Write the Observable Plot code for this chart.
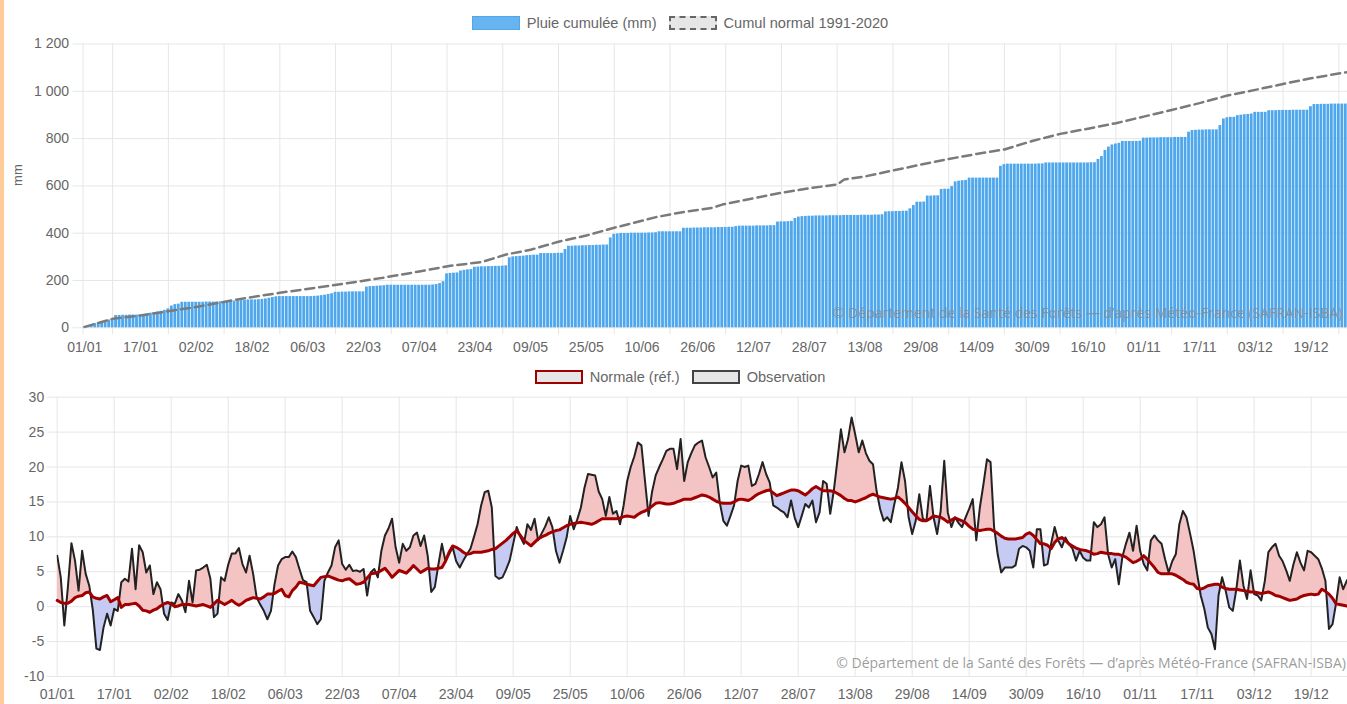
<!DOCTYPE html>
<html>
<head>
<meta charset="utf-8">
<script src="https://cdn.jsdelivr.net/npm/d3@7"></script>
<script src="https://cdn.jsdelivr.net/npm/@observablehq/plot@0.6"></script>
<style>
html, body { margin: 0; padding: 0; background: #fff; }
body { width: 1347px; height: 704px; position: relative; overflow: hidden; font-family: "Liberation Sans", Arial, sans-serif; }
#stripe { position: absolute; left: 0; top: 0; width: 4px; height: 704px; background: #ffcc99; z-index: 5; }
.legend { position: absolute; left: 0; width: 1360px; height: 18px; display: flex; justify-content: center; align-items: center; font-size: 14.6px; color: #666; }
.item { display: flex; align-items: center; margin: 0 6px; white-space: nowrap; }
.box { display: inline-block; box-sizing: border-box; width: 48px; height: 14px; margin-right: 7px; }
#c1 { position: absolute; left: 0; top: 34px; width: 1360px; }
#c2 { position: absolute; left: 0; top: 388px; width: 1360px; }
#c1 svg, #c2 svg { max-width: none !important; display: block; }
</style>
</head>
<body>
<div id="stripe"></div>
<div class="legend" style="top:14px">
  <span class="item"><span class="box" style="background:#67b4f1;border:1px solid #4fa8ec"></span>Pluie cumulée (mm)</span>
  <span class="item"><span class="box" style="background:#e6e6e6;border:2px dashed #666"></span>Cumul normal 1991-2020</span>
</div>
<div id="c1"></div>
<div class="legend" style="top:368px">
  <span class="item"><span class="box" style="background:#e6e6e6;border:2.5px solid #a00000"></span>Normale (réf.)</span>
  <span class="item"><span class="box" style="background:#e6e6e6;border:2px solid #444"></span>Observation</span>
</div>
<div id="c2"></div>
<script>
// ---------- DATA ----------
const tickLabels = ["01/01","17/01","02/02","18/02","06/03","22/03","07/04","23/04","09/05","25/05","10/06","26/06","12/07","28/07","13/08","29/08","14/09","30/09","16/10","01/11","17/11","03/12","19/12"];
const tickDays = [0,16,32,48,64,80,96,112,128,144,160,176,192,208,224,240,256,272,288,304,320,336,352];
const yTicksRain = [0,200,400,600,800,1000,1200];
const yTicksTemp = [-10,-5,0,5,10,15,20,25,30];
const credit = "© Département de la Santé des Forêts — d’après Météo-France (SAFRAN-ISBA)";

// Pluie cumulée (mm), one value per day from 01/01
const rainCum = [
  5, 8, 12, 18, 22, 25, 28, 33, 38, 52,
  52, 53, 53, 54, 54, 54, 55, 55, 58, 62,
  64, 67, 70, 74, 80, 92, 98, 100, 108, 108,
  108, 108, 108, 108, 108, 109, 109, 109, 109, 110,
  111, 111, 112, 113, 114, 115, 116, 118, 118, 118,
  119, 120, 122, 125, 128, 131, 132, 132, 132, 132,
  132, 132, 132, 132, 132, 132, 133, 134, 136, 138,
  141, 144, 150, 150, 151, 151, 152, 152, 152, 152,
  152, 172, 174, 175, 176, 177, 178, 180, 180, 180,
  180, 180, 180, 180, 180, 180, 180, 180, 180, 180,
  181, 183, 187, 195, 228, 230, 231, 232, 240, 243,
  245, 246, 256, 257, 258, 258, 259, 259, 260, 260,
  261, 262, 296, 300, 301, 302, 303, 305, 306, 307,
  307, 314, 314, 314, 314, 314, 315, 315, 331, 345,
  345, 346, 346, 347, 347, 348, 348, 349, 349, 350,
  350, 380, 395, 397, 399, 399, 399, 400, 400, 400,
  400, 400, 401, 401, 402, 406, 406, 406, 406, 406,
  406, 406, 421, 421, 421, 422, 422, 422, 423, 423,
  423, 423, 424, 424, 424, 425, 425, 428, 430, 430,
  430, 430, 430, 431, 431, 431, 431, 432, 432, 447,
  448, 448, 449, 450, 462, 468, 470, 471, 472, 472,
  473, 473, 473, 473, 474, 474, 474, 474, 475, 475,
  475, 475, 475, 476, 476, 476, 476, 477, 477, 478,
  490, 491, 491, 492, 492, 493, 493, 503, 517, 531,
  531, 532, 557, 557, 558, 558, 585, 586, 586, 597,
  617, 620, 622, 623, 633, 633, 633, 633, 633, 633,
  633, 633, 633, 683, 690, 692, 692, 692, 692, 692,
  692, 692, 692, 692, 693, 693, 697, 697, 697, 697,
  697, 697, 697, 697, 697, 697, 697, 697, 697, 698,
  698, 712, 724, 750, 764, 773, 777, 780, 788, 788,
  788, 788, 788, 789, 802, 802, 803, 803, 803, 804,
  804, 804, 804, 805, 805, 805, 805, 827, 834, 835,
  836, 836, 837, 837, 837, 837, 855, 883, 888, 890,
  890, 897, 899, 901, 902, 904, 911, 911, 911, 911,
  918, 918, 918, 919, 919, 919, 919, 920, 920, 920,
  920, 920, 935, 944, 944, 945, 945, 945, 946, 946,
  946, 946, 946, 946, 946
];

// Cumul normal 1991-2020 (day index, mm)
const normalCumDays = [0, 8, 16, 24, 32, 43, 56, 71, 85, 96, 105, 114, 121, 128, 136, 144, 152, 164, 172, 180, 183, 192, 200, 208, 216, 218, 224, 231, 240, 248, 256, 264, 272, 280, 288, 296, 304, 312, 320, 328, 336, 344, 352, 364];
const normalCumValues = [4, 38, 52, 70, 88, 118, 148, 179, 210, 238, 262, 278, 310, 330, 364, 390, 423, 468, 490, 507, 521, 548, 571, 590, 606, 627, 640, 662, 690, 714, 735, 754, 790, 820, 842, 865, 893, 921, 950, 982, 1006, 1031, 1055, 1085];

// Température observée (°C), one value per day
const tempObs = [
  7.3, 4.2, -2.7, 2.8, 9.1, 6.6, 2.3, 8.0, 4.7, 3.0,
  -0.5, -6.0, -6.2, -3.0, -1.0, -2.7, -0.3, -0.6, 3.5, 4.0,
  3.6, 8.3, 2.5, 8.8, 7.8, 4.9, 5.9, 1.8, 3.5, 2.5,
  -1.0, -1.9, 0.6, 0.4, 1.8, 0.9, -0.8, 3.7, 0.6, 5.2,
  5.3, 5.6, 6.0, 4.0, -1.5, -1.0, 4.2, 3.7, 6.0, 7.6,
  7.6, 8.4, 6.1, 4.9, 7.3, 4.7, 1.3, 0.3, -0.6, -1.8,
  -0.6, 3.2, 5.9, 6.8, 7.1, 7.1, 7.9, 7.1, 5.4, 3.8,
  3.5, -0.6, -1.5, -2.5, -1.8, 3.7, 4.9, 5.9, 8.5, 9.5,
  6.1, 5.3, 6.0, 5.1, 5.2, 5.0, 5.4, 1.6, 4.9, 5.4,
  4.2, 8.0, 10.2, 11.2, 12.6, 8.5, 6.3, 9.0, 8.0, 8.5,
  10.2, 10.6, 8.7, 10.2, 7.3, 2.1, 2.8, 6.0, 9.0, 6.5,
  7.5, 8.5, 6.5, 5.6, 6.6, 7.5, 8.3, 10.0, 11.8, 14.5,
  16.4, 16.6, 14.2, 4.4, 4.0, 4.2, 5.3, 6.6, 9.0, 11.4,
  10.0, 9.0, 11.8, 11.0, 12.6, 9.5, 10.5, 11.5, 12.8, 11.4,
  8.0, 6.3, 8.0, 9.9, 13.0, 11.1, 12.5, 14.2, 17.0, 19.0,
  18.9, 18.8, 16.5, 15.4, 13.0, 15.7, 13.3, 13.7, 11.8, 14.5,
  18.0, 20.0, 21.5, 23.5, 23.1, 18.0, 13.0, 16.5, 18.8, 20.0,
  21.1, 22.3, 22.6, 22.6, 19.7, 24.0, 18.0, 20.7, 22.0, 23.1,
  23.5, 23.8, 21.4, 20.0, 18.5, 19.2, 14.9, 12.3, 11.6, 13.0,
  14.5, 18.0, 20.2, 20.0, 20.2, 17.3, 17.6, 19.0, 20.7, 19.0,
  17.8, 14.5, 14.2, 13.8, 13.5, 12.8, 15.2, 12.8, 11.4, 13.0,
  14.7, 14.2, 15.2, 12.1, 13.5, 18.0, 17.6, 13.3, 16.6, 20.9,
  25.4, 22.1, 24.0, 27.1, 24.7, 22.1, 23.8, 22.0, 20.9, 20.4,
  16.6, 14.0, 12.3, 12.8, 12.1, 14.7, 17.0, 20.7, 18.0, 12.8,
  10.4, 12.3, 16.1, 12.6, 12.3, 17.3, 12.8, 10.4, 13.7, 20.9,
  13.5, 11.4, 12.8, 12.0, 11.4, 12.8, 14.0, 15.4, 9.5, 14.2,
  17.5, 21.1, 20.7, 11.4, 7.5, 4.9, 5.6, 5.6, 5.6, 5.9,
  8.3, 8.7, 8.5, 8.0, 5.6, 11.1, 11.1, 5.9, 6.1, 9.0,
  11.4, 9.5, 8.5, 9.9, 9.0, 8.3, 6.6, 8.0, 7.0, 6.6,
  6.6, 12.1, 11.4, 11.8, 12.8, 7.5, 5.6, 6.8, 3.2, 7.1,
  9.0, 10.6, 8.0, 11.6, 8.0, 6.1, 5.2, 9.5, 10.2, 9.5,
  9.0, 6.8, 4.9, 6.5, 7.5, 11.8, 13.7, 12.8, 10.5, 8.0,
  4.7, 1.6, -0.3, -3.0, -3.9, -6.1, 1.6, 4.2, 2.3, -0.1,
  -0.6, 2.5, 6.6, 3.0, 1.1, 5.2, 1.8, 1.6, 0.9, 3.7,
  7.8, 8.5, 9.0, 7.3, 6.5, 5.2, 3.7, 6.0, 7.8, 6.3,
  5.2, 8.0, 7.8, 7.3, 6.8, 5.5, 3.7, -3.2, -2.5, 0.5,
  4.2, 2.5, 3.7, 4.5, 3.0
];

// Normale (réf.) (°C), one value per day
const tempNormal = [
  0.9, 0.6, 0.5, 0.5, 0.8, 1.3, 1.5, 1.6, 2.0, 2.1,
  1.4, 1.2, 1.1, 1.4, 1.6, 0.7, 1.0, 1.3, -0.1, 0.3,
  0.3, 0.4, 0.5, 0.1, -0.5, -0.6, -0.8, -0.5, -0.3, 0.1,
  0.4, 0.6, 0.4, 0.0, 0.1, 0.3, 0.3, 0.3, 0.2, 0.1,
  0.2, 0.3, 0.1, -0.1, 0.4, 0.9, 0.6, 0.3, 0.6, 0.9,
  0.5, 0.2, 0.5, 0.9, 1.1, 1.3, 1.2, 1.1, 1.4, 1.8,
  1.8, 1.9, 2.2, 2.5, 1.6, 1.4, 2.3, 2.8, 3.5, 3.4,
  3.2, 3.1, 3.0, 3.6, 4.2, 4.3, 4.4, 4.2, 4.0, 3.8,
  3.7, 3.9, 4.0, 3.6, 3.2, 3.3, 3.5, 4.1, 4.7, 4.8,
  4.9, 5.2, 5.5, 4.9, 4.2, 4.7, 5.2, 5.0, 4.8, 5.3,
  5.9, 5.4, 4.9, 5.2, 5.5, 5.4, 5.4, 5.5, 5.6, 6.5,
  7.8, 8.7, 8.5, 8.2, 7.8, 7.5, 7.6, 7.8, 7.8, 7.8,
  7.9, 8.0, 8.2, 8.3, 8.7, 9.1, 9.5, 10.0, 10.5, 10.9,
  10.2, 9.5, 9.1, 8.7, 9.2, 9.7, 10.0, 10.2, 10.5, 10.7,
  10.9, 11.0, 11.3, 11.6, 11.8, 11.9, 12.0, 12.1, 12.0, 11.9,
  11.8, 12.0, 12.3, 12.6, 12.6, 12.6, 12.6, 12.6, 12.7, 12.9,
  13.0, 12.9, 12.8, 13.2, 13.5, 13.7, 14.0, 14.4, 14.8, 14.9,
  14.8, 14.7, 14.7, 14.8, 15.0, 15.2, 15.4, 15.4, 15.4, 15.6,
  15.8, 16.0, 15.9, 15.7, 15.4, 15.1, 14.9, 14.8, 14.8, 14.8,
  15.0, 15.3, 15.4, 15.3, 15.2, 15.5, 15.9, 16.2, 16.4, 16.6,
  16.7, 16.3, 15.9, 16.1, 16.3, 16.5, 16.7, 16.7, 16.6, 16.3,
  16.0, 16.4, 16.9, 17.2, 16.9, 16.6, 16.6, 16.6, 16.5, 16.2,
  15.9, 15.5, 15.2, 15.2, 15.0, 15.2, 15.4, 15.6, 15.9, 16.1,
  15.9, 15.7, 15.6, 15.5, 15.4, 15.5, 15.7, 15.3, 14.8, 14.2,
  13.6, 13.0, 12.5, 12.3, 12.3, 12.6, 13.0, 12.9, 12.8, 12.5,
  12.1, 12.4, 12.7, 12.5, 12.3, 12.0, 11.5, 11.1, 11.0, 10.9,
  11.0, 11.1, 11.1, 10.8, 10.5, 10.1, 9.8, 9.7, 9.7, 9.7,
  9.8, 9.9, 10.4, 10.6, 10.2, 9.6, 9.0, 9.0, 8.8, 8.3,
  9.2, 9.7, 9.9, 9.5, 9.0, 8.7, 8.4, 8.2, 8.1, 8.0,
  7.8, 7.5, 7.6, 7.8, 7.7, 7.6, 7.6, 7.5, 7.5, 7.3,
  7.1, 6.7, 6.3, 6.5, 6.8, 7.3, 6.8, 6.2, 5.6, 4.9,
  4.7, 4.7, 4.7, 4.7, 4.5, 4.2, 3.9, 3.5, 3.3, 3.2,
  2.6, 2.5, 2.7, 3.0, 3.1, 3.2, 3.2, 2.8, 2.6, 2.5,
  2.5, 2.5, 2.4, 2.3, 2.2, 2.1, 2.1, 2.0, 1.9, 2.0,
  2.1, 1.9, 1.6, 1.5, 1.3, 1.1, 0.9, 1.0, 1.1, 1.4,
  1.6, 1.7, 1.8, 1.7, 1.8, 2.5, 2.2, 1.8, 1.2, 0.4,
  0.3, 0.2, 0.1, 0.2, 0.3
];

// ---------- TABLES ----------
const rain = rainCum.map((v, i) => ({day: i, cum: v}));
const normCum = normalCumDays.map((d, i) => ({day: d, v: normalCumValues[i]}));
const temps = tempObs.map((v, i) => ({day: i, obs: v, normal: tempNormal[i]}));
const ticks = tickDays.map((d, i) => ({day: d, label: tickLabels[i]}));
const fr = d3.formatLocale({decimal: ",", thousands: " ", grouping: [3], currency: ["", " €"]}).format(",");

const FONT = "Liberation Sans, Arial, sans-serif";
const GRID = "#e6e6e6";
const TXT = "#666";
const W = 1360;

// ---------- TOP CHART ----------
const top1 = Plot.plot({
  width: W, height: 323,
  marginLeft: 82.5, marginRight: W - 1354, marginTop: 9.5, marginBottom: 29.7,
  x: {type: "linear", domain: [-0.5, 364.5], axis: null},
  y: {domain: [0, 1200], axis: null},
  style: {fontFamily: FONT, fontSize: "14px", background: "transparent", overflow: "visible", maxWidth: "none"},
  marks: [
    Plot.ruleY(yTicksRain, {stroke: GRID, strokeWidth: 1, insetLeft: -10}),
    Plot.ruleX([-0.5], {stroke: GRID, insetBottom: -7}),
    Plot.ruleX(tickDays.map(d => d + 8), {stroke: GRID, insetBottom: -7}),
    Plot.rectY(rain, {x1: d => d.day - 0.5, x2: d => d.day + 0.5, y: "cum", fill: "#4ea7ec", insetLeft: 0.35, insetRight: 0.35}),
    Plot.line(normCum, {x: "day", y: "v", stroke: "#7a7a7a", strokeWidth: 2.5, strokeDasharray: "9,5"}),
    Plot.text(yTicksRain, {y: d => d, frameAnchor: "left", dx: -14, textAnchor: "end", lineAnchor: "middle", text: d => fr(d), fill: TXT, fontSize: 14}),
    Plot.text(ticks, {x: "day", frameAnchor: "bottom", dy: 20, lineAnchor: "middle", text: "label", fill: TXT, fontSize: 14}),
    Plot.text(["mm"], {frameAnchor: "left", dx: -65.5, rotate: -90, lineAnchor: "middle", fill: TXT, fontSize: 13}),
    Plot.text([credit], {frameAnchor: "bottom-right", dx: -12, dy: -10, textAnchor: "end", lineAnchor: "bottom", fill: "#8a8a8a", fillOpacity: 0.85, fontSize: 14, fontFamily: "Open Sans, sans-serif"})
  ]
});
document.getElementById("c1").appendChild(top1);

// ---------- BOTTOM CHART ----------
const diffMarks = (typeof Plot.differenceY === "function")
  ? [Plot.differenceY(temps, {x: "day", y1: "normal", y2: "obs", positiveFill: "#f4c3c3", negativeFill: "#c6cbf4", stroke: "#222", strokeWidth: 2})]
  : [
      Plot.areaY(temps, {x: "day", y1: "normal", y2: d => Math.max(d.obs, d.normal), fill: "#f4c3c3"}),
      Plot.areaY(temps, {x: "day", y1: "normal", y2: d => Math.min(d.obs, d.normal), fill: "#c6cbf4"}),
      Plot.lineY(temps, {x: "day", y: "obs", stroke: "#222", strokeWidth: 2})
    ];

const bottom = Plot.plot({
  width: W, height: 316,
  marginLeft: 56.7, marginRight: W - 1353.4, marginTop: 8.7, marginBottom: 28,
  x: {type: "linear", domain: [0, 364], axis: null},
  y: {domain: [-10, 30], axis: null},
  style: {fontFamily: FONT, fontSize: "14px", background: "transparent", overflow: "visible", maxWidth: "none"},
  marks: [
    Plot.ruleY(yTicksTemp, {stroke: GRID, strokeWidth: 1, insetLeft: -10}),
    Plot.ruleX(tickDays, {stroke: GRID}),
    ...diffMarks,
    Plot.lineY(temps, {x: "day", y: "normal", stroke: "#a00000", strokeWidth: 3}),
    Plot.text(yTicksTemp, {y: d => d, frameAnchor: "left", dx: -13, textAnchor: "end", lineAnchor: "middle", text: d => String(d), fill: TXT, fontSize: 14}),
    Plot.text(ticks, {x: "day", frameAnchor: "bottom", dy: 18, lineAnchor: "middle", text: "label", fill: TXT, fontSize: 14}),
    Plot.text([credit], {frameAnchor: "bottom-right", dx: -8, dy: -9, textAnchor: "end", lineAnchor: "bottom", fill: "#8a8a8a", fillOpacity: 0.85, fontSize: 14, fontFamily: "Open Sans, sans-serif"})
  ]
});
document.getElementById("c2").appendChild(bottom);
</script>
</body>
</html>
